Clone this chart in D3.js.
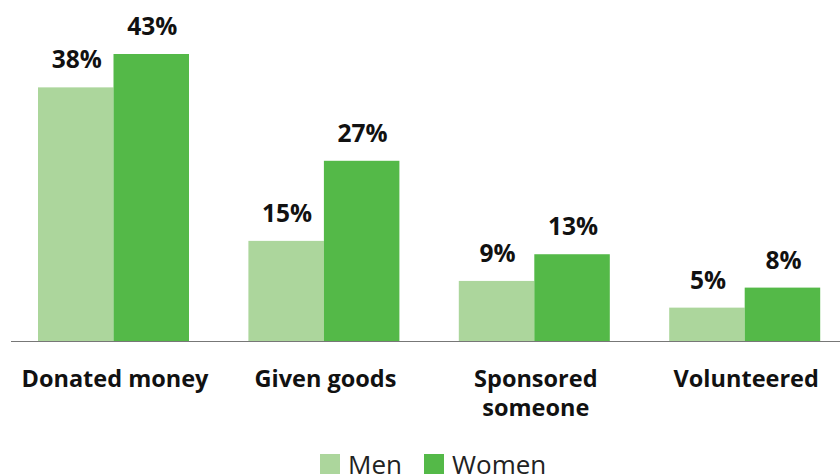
<!DOCTYPE html>
<html>
<head>
<meta charset="utf-8">
<script src="https://cdn.jsdelivr.net/npm/d3@7"></script>
<style>
  html, body { margin: 0; padding: 0; background: #fff; }
  svg { display: block; font-family: "Open Sans", "Noto Sans", sans-serif; }
</style>
</head>
<body>
<svg id="chart" width="840" height="474"></svg>
<script>
// Share of respondents who gave in each way, by gender (%)
const categories = ["Donated money", "Given goods", "Sponsored someone", "Volunteered"];
const categoryLines = [["Donated money"], ["Given goods"], ["Sponsored", "someone"], ["Volunteered"]];
const seriesNames = ["Men", "Women"];
const menValues = [38, 15, 9, 5];
const womenValues = [43, 27, 13, 8];
const seriesColors = ["#acd69c", "#54b948"];

const svg = d3.select("#chart");
const W = 840;
const baseY = 341;

// four groups of two bars, 210px apart, starting at x = 38
const step = 210.4, bandW = 151;
const inner = (step - bandW) / step;
const x0 = d3.scaleBand().domain(categories)
  .range([38 - inner * step / 2, 38 - inner * step / 2 + 4 * step])
  .paddingInner(inner).paddingOuter(inner / 2);
const x1 = d3.scaleBand().domain(seriesNames).range([0, x0.bandwidth()]);
const y = d3.scaleLinear().domain([0, 43]).range([baseY, 54]);

const rows = categories.map((c, i) => ({ cat: c, vals: [menValues[i], womenValues[i]] }));

const groups = svg.append("g").selectAll("g").data(rows).join("g")
  .attr("transform", d => `translate(${x0(d.cat)},0)`);

groups.selectAll("rect").data(d => d.vals.map((v, j) => ({ v, s: seriesNames[j], j })))
  .join("rect")
  .attr("x", d => x1(d.s))
  .attr("y", d => y(d.v))
  .attr("width", x1.bandwidth())
  .attr("height", d => y(0) - y(d.v))
  .attr("fill", d => seriesColors[d.j]);

groups.selectAll("text.val").data(d => d.vals.map((v, j) => ({ v, s: seriesNames[j] })))
  .join("text")
  .attr("class", "val")
  .attr("x", d => x1(d.s) + x1.bandwidth() / 2 + 1)
  .attr("y", d => y(d.v) - 19)
  .attr("text-anchor", "middle")
  .attr("font-size", 24.5)
  .attr("font-weight", 700)
  .attr("fill", "#111")
  .text(d => d.v + "%");

// baseline
svg.append("line")
  .attr("x1", 11).attr("x2", W)
  .attr("y1", baseY + 0.5).attr("y2", baseY + 0.5)
  .attr("stroke", "#777").attr("stroke-width", 1.2);

// category labels
const catLabels = svg.append("g").selectAll("text").data(categories).join("text")
  .attr("y", 387)
  .attr("text-anchor", "middle")
  .attr("font-size", 23.5)
  .attr("font-weight", 700)
  .attr("fill", "#111");
catLabels.each(function (d, i) {
  d3.select(this).selectAll("tspan").data(categoryLines[i]).join("tspan")
    .attr("x", x0(d) + x0.bandwidth() / 2 + 1.5)
    .attr("dy", (t, k) => k === 0 ? 0 : 29)
    .text(t => t);
});

// legend
const legendX = [320, 424];
const legend = svg.append("g").selectAll("g").data(seriesNames).join("g")
  .attr("transform", (d, i) => `translate(${legendX[i]},454)`);
legend.append("rect").attr("width", 20).attr("height", 20)
  .attr("fill", (d, i) => seriesColors[i]);
legend.append("text").attr("x", 28).attr("y", 19.5)
  .attr("font-size", 26).attr("fill", "#222").text(d => d);
</script>
</body>
</html>
